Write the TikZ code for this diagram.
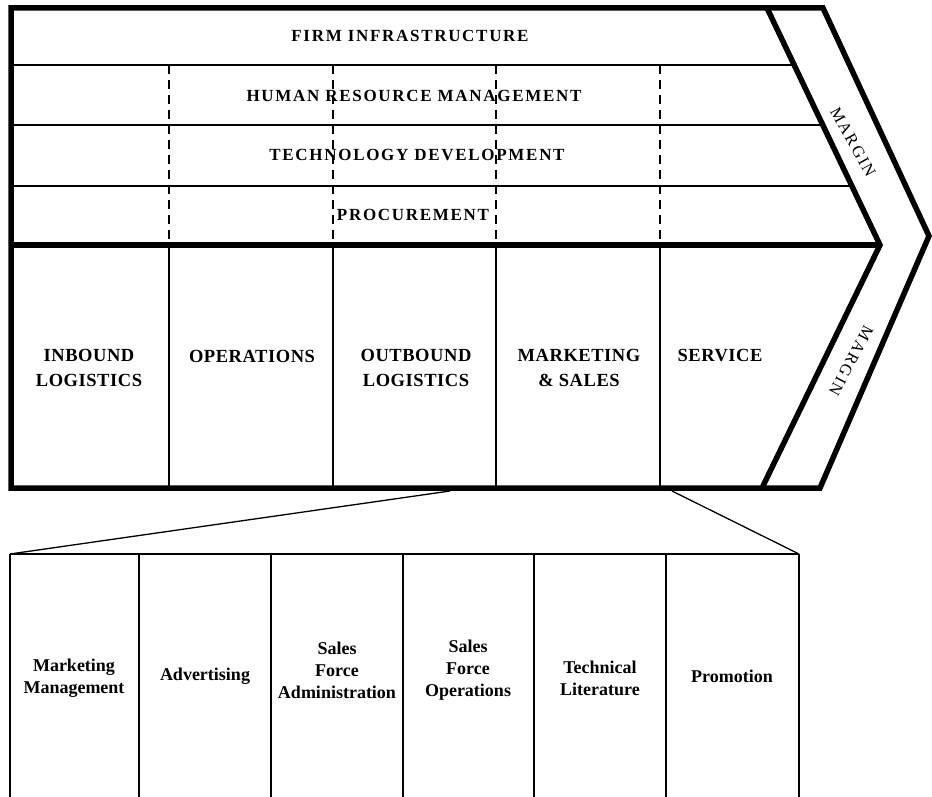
\documentclass[tikz,border=0pt]{standalone}
\usepackage{fontspec}
\setmainfont{Liberation Serif}
\begin{document}
\begin{tikzpicture}[x=1pt,y=-1pt,
  thickln/.style={line width=5.5pt,line join=miter},
  thinln/.style={line width=1.3pt},
  dashln/.style={line width=1.3pt,dash pattern=on 9pt off 6pt},
  support/.style={inner sep=0pt,font=\fontsize{17}{20}\selectfont\bfseries\addfontfeature{LetterSpace=10}},
  primary/.style={inner sep=0pt,align=center,font=\fontsize{18.5}{25}\selectfont\bfseries\addfontfeature{LetterSpace=3}},
  subact/.style={inner sep=0pt,align=center,font=\fontsize{18}{22}\selectfont\bfseries},
  margintxt/.style={inner sep=0pt,font=\fontsize{16.5}{18}\selectfont\addfontfeature{LetterSpace=12}}]
\useasboundingbox (0,0) rectangle (932,797);
% key points
\coordinate (TL) at (11,8);
\coordinate (OT) at (823,8);
\coordinate (TIP) at (929,236);
\coordinate (OB) at (820,488);
\coordinate (BL) at (11,488);
\coordinate (IT) at (767,8);
\coordinate (IM) at (880,245);
\coordinate (IB) at (762,488);
\coordinate (ML) at (11,245);
% support rows
\coordinate (h1l) at (11,65);  \coordinate (h1r) at (794,65);
\coordinate (h2l) at (11,125); \coordinate (h2r) at (823,125);
\coordinate (h3l) at (11,186); \coordinate (h3r) at (852,186);
\draw[thinln] (h1l) -- (h1r);
\draw[thinln] (h2l) -- (h2r);
\draw[thinln] (h3l) -- (h3r);
\foreach \x [count=\i] in {169,333,496,660}{
  \coordinate (dt\i) at (\x,65);
  \coordinate (dm\i) at (\x,245);
  \coordinate (db\i) at (\x,488);
  \draw[dashln] (dt\i) -- (dm\i);
  \draw[thinln] (dm\i) -- (db\i);
}
% thick frame
\draw[thickln] (TL) -- (OT) -- (TIP) -- (OB) -- (BL) -- cycle;
\draw[thickln] (IT) -- (IM) -- (IB);
\draw[thickln] (ML) -- (IM);
% support labels
\node[support] (fi) at (410,36) {FIRM INFRASTRUCTURE};
\node[support] (hrm) at (414,96) {HUMAN RESOURCE MANAGEMENT};
\node[support] (td) at (417,155) {TECHNOLOGY DEVELOPMENT};
\node[support] (pr) at (413,215) {PROCUREMENT};
% primary labels
\node[primary] (il) at (89,368) {INBOUND\\LOGISTICS};
\node[primary] (op) at (252,356) {OPERATIONS};
\node[primary] (ol) at (416,368) {OUTBOUND\\LOGISTICS};
\node[primary] (ms) at (579,368) {MARKETING\\\& SALES};
\node[primary] (sv) at (720,356) {SERVICE};
% margin labels
\node[margintxt,rotate=-61] (m1) at (853,142) {MARGIN};
\node[margintxt,rotate=-118] (m2) at (851,361) {MARGIN};
% expansion
\coordinate (fl) at (450,491);
\coordinate (fr) at (672,491);
\coordinate (bl) at (10,554);
\coordinate (br) at (799,554);
\draw[thinln] (fl) -- (bl);
\draw[thinln] (fr) -- (br);
\draw[thinln] (bl) -- (br);
\foreach \x [count=\i] in {10,139,271,403,534,666,799}{
  \coordinate (vt\i) at (\x,554);
  \coordinate (vb\i) at (\x,800);
  \draw[thinln] (vt\i) -- (vb\i);
}
\node[subact] (s1) at (74,678) {Marketing\\Management};
\node[subact] (s2) at (205,676) {Advertising};
\node[subact] (s3) at (337,670) {Sales\\Force\\Administration};
\node[subact] (s4) at (468,670) {Sales\\Force\\Operations};
\node[subact] (s5) at (600,678) {Technical\\Literature};
\node[subact] (s6) at (732,676) {Promotion};
\end{tikzpicture}
\end{document}
